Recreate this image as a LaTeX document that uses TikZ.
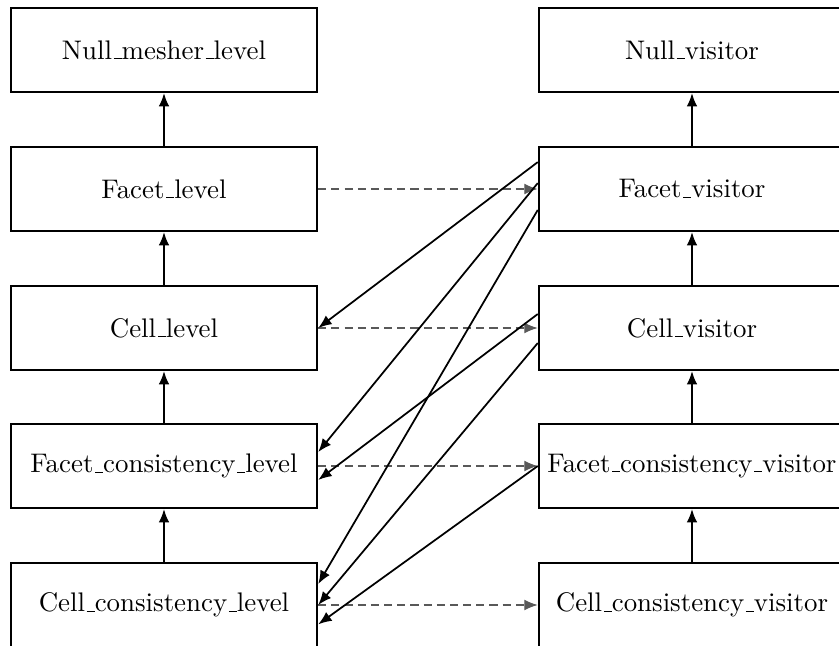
\documentclass[tikz,border=0pt]{standalone}
\usetikzlibrary{arrows.meta}
\newcommand{\us}{\leavevmode\kern.06em\vbox{\hrule width.3em height.4pt}}

\begin{document}
\begin{tikzpicture}[x=0.372pt, y=-0.372pt,
    box/.style={draw, line width=0.75pt, minimum width=114pt, minimum height=31.2pt, inner sep=2pt},
    up/.style={-{Latex[length=5pt, width=4pt]}, line width=0.8pt},
    link/.style={-{Latex[length=5pt, width=4pt]}, line width=0.65pt},
    visit/.style={-{Latex[length=5pt, width=4pt]}, line width=0.45pt, black!65,
      dash pattern=on 3pt off 1.9pt}]
  \useasboundingbox (0,0) rectangle (839,646);

  % --- mesher levels (left column) ---
  \node[box] (nml) at (164,50) {Null\us mesher\us level};
  \node[box] (fl)  at (164,189) {Facet\us level};
  \node[box] (cl)  at (164,328) {Cell\us level};
  \node[box] (fcl) at (164,466) {Facet\us consistency\us level};
  \node[box] (ccl) at (164,605) {Cell\us consistency\us level};

  % --- visitors (right column) ---
  \node[box] (nv)  at (692,50) {Null\us visitor};
  \node[box] (fv)  at (692,189) {Facet\us visitor};
  \node[box] (cv)  at (692,328) {Cell\us visitor};
  \node[box] (fcv) at (692,466) {Facet\us consistency\us visitor};
  \node[box] (ccv) at (692,605) {Cell\us consistency\us visitor};

  % level chain
  \draw[up] (fl) -- (nml);
  \draw[up] (cl) -- (fl);
  \draw[up] (fcl) -- (cl);
  \draw[up] (ccl) -- (fcl);
  % visitor chain
  \draw[up] (fv) -- (nv);
  \draw[up] (cv) -- (fv);
  \draw[up] (fcv) -- (cv);
  \draw[up] (ccv) -- (fcv);

  % level -> visitor (dashed)
  \draw[visit] (fl) -- (fv);
  \draw[visit] (cl) -- (cv);
  \draw[visit] (fcl) -- (fcv);
  \draw[visit] (ccl) -- (ccv);

  % visitor -> previous levels
  \draw[link] ([yshift=10pt]fv.west) -- (cl.east);
  \draw[link] ([yshift=2.2pt]fv.west) -- ([yshift=5.2pt]fcl.east);
  \draw[link] ([yshift=-7.8pt]fv.west) -- ([yshift=7.8pt]ccl.east);
  \draw[link] ([yshift=5.2pt]cv.west) -- ([yshift=-5.2pt]fcl.east);
  \draw[link] ([yshift=-5.6pt]cv.west) -- (ccl.east);
  \draw[link] (fcv.west) -- ([yshift=-7.2pt]ccl.east);

\end{tikzpicture}
\end{document}
